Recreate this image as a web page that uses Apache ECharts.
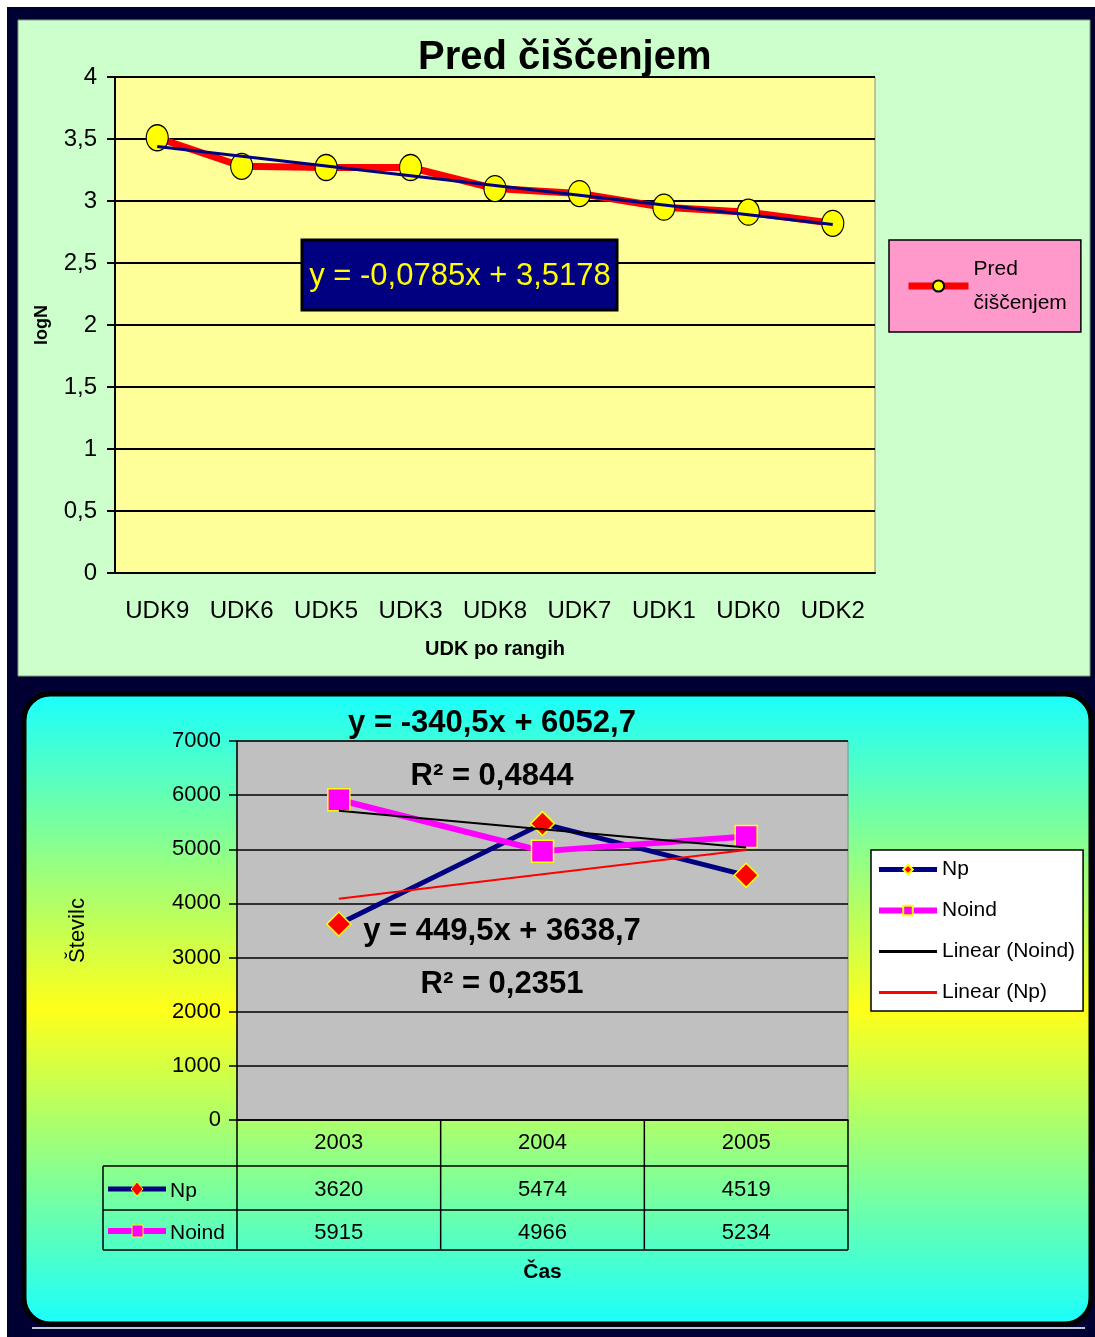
<!DOCTYPE html>
<html><head><meta charset="utf-8">
<script src="https://cdn.jsdelivr.net/npm/echarts@6/dist/echarts.min.js"></script>
<style>html,body{margin:0;padding:0;background:#fff}#c{width:1095px;height:1337px}</style>
</head><body><div id="c"></div>
<script>
// ---------- data ----------
const topCategories = ['UDK9','UDK6','UDK5','UDK3','UDK8','UDK7','UDK1','UDK0','UDK2'];
const topValues = [3.51, 3.28, 3.27, 3.27, 3.10, 3.06, 2.95, 2.91, 2.82];
const topSeriesName = 'Pred čiščenjem';
const topTrend = [-0.0785, 3.5178];           // slope, intercept (from label)

const years = ['2003', '2004', '2005'];
const npValues = [3620, 5474, 4519];
const noindValues = [5915, 4966, 5234];
const npTrend = [449.5, 3638.7];
const noindTrend = [-340.5, 6052.7];
const npR2 = 0.2351;
const noindR2 = 0.4844;
const bottomNames = ['Np', 'Noind', 'Linear (Noind)', 'Linear (Np)'];

// ---------- helpers ----------
const F = "'Liberation Sans', Arial, sans-serif";
const fmt = v => String(v).replace('.', ',');
const eq = c => 'y = ' + fmt(c[0]) + 'x ' + (c[1] < 0 ? '- ' : '+ ') + fmt(Math.abs(c[1]));
const trend = (c, n) => Array.from({length: n}, (_, i) => +(c[0] * (i + 1) + c[1]).toFixed(4));

const chart = echarts.init(document.getElementById('c'));

const TG = {left: 115, top: 77, width: 760, height: 496};
const BG = {left: 237, top: 741, width: 611, height: 379};
const tableLeft = 103, rowY = [1166, 1210, 1250];
const gridBottom = BG.top + BG.height;

const grad = new echarts.graphic.LinearGradient(0, 0, 0, 1, [
  {offset: 0, color: '#18FFFF'},
  {offset: 0.5, color: '#FFFF1A'},
  {offset: 1, color: '#18FFFF'}
]);

const tLine = (x1, y1, x2, y2) => ({type: 'line', z: 20, silent: true, shape: {x1, y1, x2, y2}, style: {stroke: '#000', lineWidth: 1.5}});

const graphics = [
  {type: 'rect', z: -20, silent: true, shape: {x: 7, y: 7, width: 1088, height: 1330}, style: {fill: '#000033'}},
  {type: 'rect', z: -19, silent: true, shape: {x: 18, y: 20, width: 1072, height: 656}, style: {fill: '#CCFFCC', stroke: '#7F9F7F', lineWidth: 1}},
  {type: 'rect', z: -19, silent: true, shape: {x: 24, y: 694, width: 1067, height: 630, r: 26}, style: {fill: grad, stroke: '#000', lineWidth: 5}},
  {type: 'line', z: -18, silent: true, shape: {x1: 32, y1: 1328, x2: 1085, y2: 1328}, style: {stroke: '#B8C8D8', lineWidth: 2}},
  // top equation box
  {type: 'rect', z: 50, shape: {x: 302, y: 240, width: 315, height: 70}, style: {fill: '#000080', stroke: '#000', lineWidth: 3}},
  {type: 'text', z: 51, x: 460, y: 276, style: {text: eq(topTrend), fill: '#FFFF00', fontFamily: F, fontSize: 31, align: 'center', verticalAlign: 'middle'}},
  // bottom trend labels
  {type: 'text', z: 51, x: 492, y: 723, style: {text: eq(noindTrend), fill: '#000', fontFamily: F, fontWeight: 'bold', fontSize: 31, align: 'center', verticalAlign: 'middle'}},
  {type: 'text', z: 51, x: 492, y: 776, style: {text: 'R² = ' + fmt(noindR2), fill: '#000', fontFamily: F, fontWeight: 'bold', fontSize: 31, align: 'center', verticalAlign: 'middle'}},
  {type: 'text', z: 51, x: 502, y: 931, style: {text: eq(npTrend), fill: '#000', fontFamily: F, fontWeight: 'bold', fontSize: 31, align: 'center', verticalAlign: 'middle'}},
  {type: 'text', z: 51, x: 502, y: 984, style: {text: 'R² = ' + fmt(npR2), fill: '#000', fontFamily: F, fontWeight: 'bold', fontSize: 31, align: 'center', verticalAlign: 'middle'}},
  // data table lines
  tLine(tableLeft, rowY[0], BG.left + BG.width, rowY[0]),
  tLine(tableLeft, rowY[1], BG.left + BG.width, rowY[1]),
  tLine(tableLeft, rowY[2], BG.left + BG.width, rowY[2]),
  tLine(tableLeft, rowY[0], tableLeft, rowY[2]),
  // row keys
  {type: 'line', z: 21, shape: {x1: 108, y1: 1189, x2: 166, y2: 1189}, style: {stroke: '#000080', lineWidth: 5}},
  {type: 'polygon', z: 22, shape: {points: [[137, 1182], [143, 1189], [137, 1196], [131, 1189]]}, style: {fill: '#FF0000', stroke: '#FFFF00', lineWidth: 1}},
  {type: 'text', z: 21, x: 170, y: 1191, style: {text: bottomNames[0], fill: '#000', fontFamily: F, fontSize: 21, verticalAlign: 'middle'}},
  {type: 'line', z: 21, shape: {x1: 108, y1: 1231, x2: 166, y2: 1231}, style: {stroke: '#FF00FF', lineWidth: 6}},
  {type: 'rect', z: 22, shape: {x: 132, y: 1225, width: 11, height: 12}, style: {fill: '#FF00FF', stroke: '#FFFF00', lineWidth: 1}},
  {type: 'text', z: 21, x: 170, y: 1233, style: {text: bottomNames[1], fill: '#000', fontFamily: F, fontSize: 21, verticalAlign: 'middle'}}
];
// vertical table lines at the category boundaries of the bottom axis
for (let k = 0; k <= years.length; k++) {
  const x = BG.left + k * BG.width / years.length;
  graphics.push(tLine(x, gridBottom, x, rowY[2]));
}

const valueRowAxis = (data, offset) => ({
  gridIndex: 1, type: 'category', data: data, position: 'bottom', offset: offset,
  axisLine: {show: false}, axisTick: {show: false}, splitLine: {show: false},
  axisLabel: {margin: 11, color: '#000', fontFamily: F, fontSize: 22}
});

const option = {
  animation: false,
  backgroundColor: '#ffffff',
  title: {
    text: topSeriesName, left: 418, top: 38, padding: 0,
    textStyle: {fontFamily: F, fontWeight: 'bold', fontSize: 40, color: '#000'}
  },
  legend: [
    {
      data: [{name: topSeriesName, lineStyle: {color: '#FF0000', width: 7}}],
      left: 889, top: 240, orient: 'vertical',
      backgroundColor: '#FF99CC', borderColor: '#000', borderWidth: 1.5, borderRadius: 0,
      padding: [12, 14, 12, 16], itemWidth: 60, itemHeight: 14,
      formatter: n => n.replace(' ', '\n'),
      textStyle: {fontFamily: F, fontSize: 21, lineHeight: 34, color: '#000'}
    },
    {
      data: [
        {name: bottomNames[0], lineStyle: {color: '#000080', width: 5}},
        {name: bottomNames[1], lineStyle: {color: '#FF00FF', width: 6}},
        {name: bottomNames[2], lineStyle: {color: '#000000', width: 3}, itemStyle: {opacity: 0}},
        {name: bottomNames[3], lineStyle: {color: '#FF0000', width: 3}, itemStyle: {opacity: 0}}
      ],
      left: 871, top: 850, orient: 'vertical',
      backgroundColor: '#FFFFFF', borderColor: '#000', borderWidth: 1.5, borderRadius: 0,
      padding: [9, 8, 8, 5], itemWidth: 58, itemHeight: 12, itemGap: 20,
      textStyle: {fontFamily: F, fontSize: 21, color: '#000'}
    }
  ],
  grid: [
    Object.assign({show: true, backgroundColor: '#FFFF99', borderColor: '#888', borderWidth: 1}, TG),
    Object.assign({show: true, backgroundColor: '#C0C0C0', borderColor: '#888', borderWidth: 1}, BG)
  ],
  xAxis: [
    {
      gridIndex: 0, type: 'category', data: topCategories, boundaryGap: true,
      axisLine: {lineStyle: {color: '#000', width: 2}},
      axisTick: {length: 8, lineStyle: {color: '#000', width: 2}},
      axisLabel: {margin: 26, color: '#000', fontFamily: F, fontSize: 24},
      splitLine: {show: false},
      name: 'UDK po rangih', nameLocation: 'middle', nameGap: 66,
      nameTextStyle: {color: '#000', fontFamily: F, fontWeight: 'bold', fontSize: 20}
    },
    {
      gridIndex: 1, type: 'category', data: years, boundaryGap: true, position: 'bottom',
      axisLine: {lineStyle: {color: '#000', width: 1.5}},
      axisTick: {show: false},
      axisLabel: {margin: 12, color: '#000', fontFamily: F, fontSize: 22},
      splitLine: {show: false},
      name: 'Čas', nameLocation: 'middle', nameGap: 142,
      nameTextStyle: {color: '#000', fontFamily: F, fontWeight: 'bold', fontSize: 21}
    },
    valueRowAxis(npValues.map(String), 48),
    valueRowAxis(noindValues.map(String), 91)
  ],
  yAxis: [
    {
      gridIndex: 0, type: 'value', min: 0, max: 4, interval: 0.5,
      axisLine: {show: true, lineStyle: {color: '#000', width: 2}},
      axisTick: {show: true, length: 8, lineStyle: {color: '#000', width: 2}},
      axisLabel: {margin: 18, color: '#000', fontFamily: F, fontSize: 24, formatter: fmt},
      splitLine: {lineStyle: {color: '#000', width: 2}},
      name: 'logN', nameLocation: 'middle', nameRotate: 90, nameGap: 64,
      nameTextStyle: {color: '#000', fontFamily: F, fontWeight: 'bold', fontSize: 18}
    },
    {
      gridIndex: 1, type: 'value', min: 0, max: 7000, interval: 1000,
      axisLine: {show: true, lineStyle: {color: '#000', width: 1.5}},
      axisTick: {show: true, length: 8, lineStyle: {color: '#000', width: 1.5}},
      axisLabel: {margin: 16, color: '#000', fontFamily: F, fontSize: 22, formatter: v => String(v)},
      splitLine: {lineStyle: {color: '#000', width: 1.5}},
      name: 'Številc', nameLocation: 'middle', nameRotate: 90, nameGap: 148,
      nameTextStyle: {color: '#000', fontFamily: F, fontSize: 22}
    }
  ],
  series: [
    {
      type: 'line', name: topSeriesName, xAxisIndex: 0, yAxisIndex: 0, data: topValues,
      symbol: 'circle', symbolSize: [22, 26],
      lineStyle: {color: '#FF0000', width: 7},
      itemStyle: {color: '#FFFF00', borderColor: '#000', borderWidth: 1.2}, z: 3
    },
    {
      type: 'line', name: 'Linear (' + topSeriesName + ')', xAxisIndex: 0, yAxisIndex: 0,
      data: trend(topTrend, topCategories.length), symbol: 'none',
      lineStyle: {color: '#000080', width: 3}, z: 4
    },
    {
      type: 'line', name: bottomNames[0], xAxisIndex: 1, yAxisIndex: 1, data: npValues,
      symbol: 'diamond', symbolSize: 24,
      lineStyle: {color: '#000080', width: 5},
      itemStyle: {color: '#FF0000', borderColor: '#FFFF00', borderWidth: 1.5}, z: 3
    },
    {
      type: 'line', name: bottomNames[1], xAxisIndex: 1, yAxisIndex: 1, data: noindValues,
      symbol: 'rect', symbolSize: 22,
      lineStyle: {color: '#FF00FF', width: 6},
      itemStyle: {color: '#FF00FF', borderColor: '#FFFF00', borderWidth: 1.5}, z: 3
    },
    {
      type: 'line', name: bottomNames[2], xAxisIndex: 1, yAxisIndex: 1,
      data: trend(noindTrend, years.length), symbol: 'none',
      lineStyle: {color: '#000000', width: 2}, itemStyle: {color: '#000000'}, z: 4
    },
    {
      type: 'line', name: bottomNames[3], xAxisIndex: 1, yAxisIndex: 1,
      data: trend(npTrend, years.length), symbol: 'none',
      lineStyle: {color: '#FF0000', width: 2}, itemStyle: {color: '#FF0000'}, z: 4
    }
  ],
  graphic: graphics
};
chart.setOption(option);
</script>
</body></html>
